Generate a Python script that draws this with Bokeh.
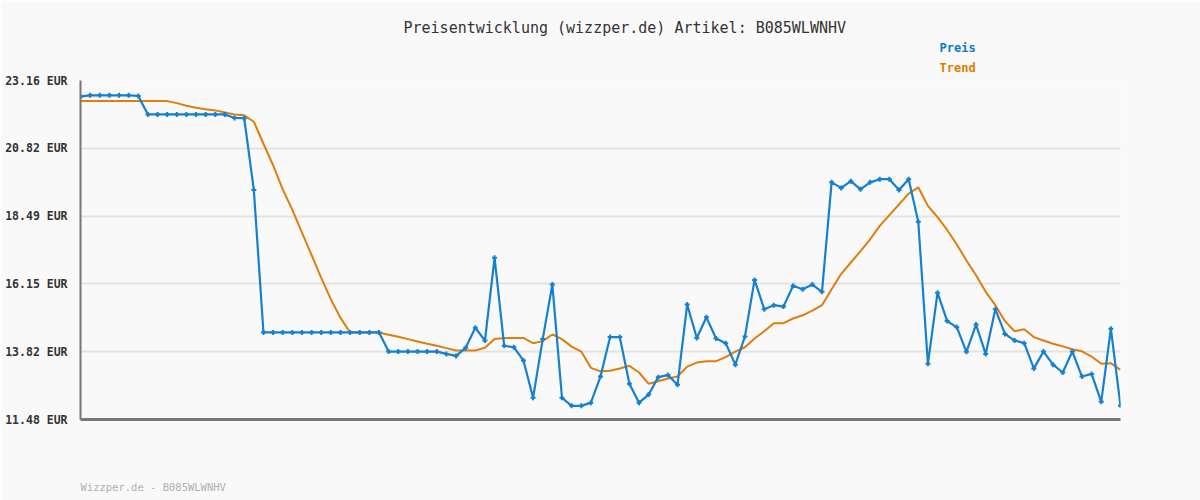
from bokeh.plotting import figure
from bokeh.models import FixedTicker, CustomJSTickFormatter, Range1d, Title
from bokeh.embed import file_html
from bokeh.resources import INLINE

title_text = "Preisentwicklung (wizzper.de) Artikel: B085WLWNHV"
footer_text = "Wizzper.de - B085WLWNHV"
y_ticks = [11.48, 13.82, 16.15, 18.49, 20.82, 23.16]

preis = [22.61, 22.65, 22.65, 22.65, 22.65, 22.65, 22.63,
         21.99, 21.99, 21.99, 21.99, 21.99, 21.99, 21.99, 21.99, 21.99,
         21.87, 21.86, 19.39,
         14.48, 14.48, 14.48, 14.48, 14.48, 14.48, 14.48, 14.48, 14.48, 14.48, 14.48, 14.48, 14.48,
         13.82, 13.82, 13.82, 13.82, 13.82, 13.82, 13.74, 13.67, 13.95, 14.64,
         14.20, 17.05, 14.02, 13.97, 13.51, 12.23, 14.25, 16.13, 12.23, 11.95,
         11.95, 12.06, 12.96, 14.32, 14.32, 12.71, 12.06, 12.34, 12.94, 13.01,
         12.68, 15.44, 14.29, 15.00, 14.27, 14.11, 13.37, 14.34, 16.29, 15.28,
         15.42, 15.37, 16.09, 15.97, 16.13, 15.88, 19.65, 19.46, 19.69, 19.41,
         19.65, 19.76, 19.76, 19.39, 19.76, 18.29, 13.40, 15.85, 14.87, 14.66,
         13.81, 14.75, 13.74, 15.28, 14.43, 14.20, 14.11, 13.24, 13.82, 13.37,
         13.10, 13.82, 12.96, 13.05, 12.09, 14.61, 11.95]

trend = [22.45, 22.45, 22.45, 22.45, 22.45, 22.45, 22.45, 22.45, 22.45, 22.45,
         22.38, 22.29, 22.22, 22.17, 22.13, 22.06, 21.99, 21.96, 21.74, 20.98,
         20.24, 19.41, 18.70, 17.92, 17.14, 16.36, 15.62, 14.98, 14.48, 14.48,
         14.48, 14.48, 14.40, 14.33, 14.25, 14.17, 14.09, 14.02, 13.94, 13.86,
         13.86, 13.86, 13.95, 14.25, 14.29, 14.29, 14.29, 14.11, 14.18, 14.41,
         14.25, 13.99, 13.82, 13.26, 13.14, 13.16, 13.24, 13.33, 13.10, 12.71,
         12.80, 12.89, 12.96, 13.30, 13.44, 13.49, 13.49, 13.63, 13.82, 13.97,
         14.27, 14.52, 14.80, 14.80, 14.96, 15.07, 15.23, 15.42, 15.97, 16.50,
         16.89, 17.28, 17.69, 18.15, 18.52, 18.89, 19.26, 19.48, 18.84, 18.45,
         18.01, 17.51, 16.96, 16.45, 15.88, 15.42, 14.87, 14.52, 14.59, 14.32,
         14.20, 14.09, 14.00, 13.90, 13.83, 13.65, 13.40, 13.42, 13.19]

x = list(range(len(preis)))

BG = "#f9f9f9"
BLUE = "#1580cf"
ORANGE = "#e07d0c"
MONO = "DejaVu Sans Mono"

p = figure(width=1200, height=500, output_backend="svg", toolbar_location=None,
           x_range=Range1d(0, len(preis) - 1), y_range=Range1d(y_ticks[0], y_ticks[-1]),
           background_fill_color=BG, border_fill_color=BG, outline_line_color=None,
           min_border_left=80, min_border_right=80, min_border_top=80, min_border_bottom=81)

p.line(x, trend, line_color=ORANGE, line_width=2)
p.line(x, preis, line_color=BLUE, line_width=2.2)
p.scatter(x, preis, marker="cross", size=5, line_color=BLUE, line_width=2)

# axes
p.yaxis.ticker = FixedTicker(ticks=y_ticks)
p.yaxis.formatter = CustomJSTickFormatter(code="return tick.toFixed(2) + ' EUR';")
p.yaxis.major_label_text_font = MONO
p.yaxis.major_label_text_font_size = "11.5px"
p.yaxis.major_label_text_font_style = "bold"
p.yaxis.major_label_text_color = "#333333"
p.yaxis.major_label_standoff = 7
p.yaxis.major_tick_line_color = None
p.yaxis.minor_tick_line_color = None
p.yaxis.axis_line_color = "#777777"
p.yaxis.axis_line_width = 2

p.xaxis.ticker = FixedTicker(ticks=[])
p.xaxis.major_label_text_font_size = "0px"
p.xaxis.major_tick_line_color = None
p.xaxis.minor_tick_line_color = None
p.xaxis.axis_line_color = "#777777"
p.xaxis.axis_line_width = 3

p.xgrid.grid_line_color = None
p.ygrid.grid_line_color = "#e3e3e3"
p.ygrid.grid_line_width = 2

# texts above the plot (first added = nearest to the frame)
p.add_layout(Title(text="Trend", align="left", offset=859, standoff=12, text_font=MONO,
                   text_font_size="12px", text_font_style="bold", text_color="#e07b00"), "above")
p.add_layout(Title(text="Preis", align="left", offset=859, standoff=-4, text_font=MONO,
                   text_font_size="12px", text_font_style="bold", text_color="#0e7ccc"), "above")
p.add_layout(Title(text=title_text, align="left", offset=323, standoff=8, text_font=MONO,
                   text_font_size="15px", text_font_style="normal", text_color="#333333"), "above")
# footer: a blank spacer below the axis, then the footer text
p.add_layout(Title(text=" ", standoff=56, text_font_size="1px"), "below")
p.add_layout(Title(text=footer_text, align="left", offset=0, standoff=0, text_font=MONO,
                   text_font_size="10.5px", text_font_style="normal", text_color="#b0b0b0"), "below")

open("out.html", "w").write(file_html(p, INLINE))
